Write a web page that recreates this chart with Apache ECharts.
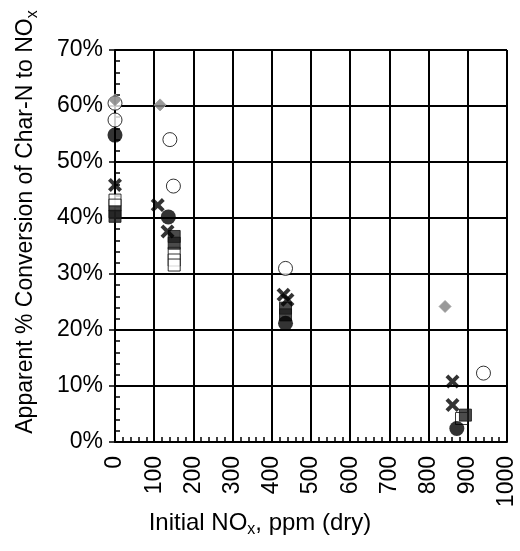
<!DOCTYPE html>
<html>
<head>
<meta charset="utf-8">
<script src="https://cdn.jsdelivr.net/npm/echarts@6/dist/echarts.min.js"></script>
<style>
html,body{margin:0;padding:0;background:#fff;}
#c{width:520px;height:551px;}
</style>
</head>
<body>
<div id="c"></div>
<script>
// ---- data (x = initial NOx ppm, y = % conversion) ----
const xTicks = [0,100,200,300,400,500,600,700,800,900,1000];
const yTicks = [0,10,20,30,40,50,60,70];

const openCircleX = [0, 0, 140, 149, 435, 940];
const openCircleY = [60.5, 57.5, 54.0, 45.7, 31.0, 12.3];

const openSquareX = [0, 0, 151, 151, 151, 884];
const openSquareY = [43.2, 42.3, 33.7, 32.5, 31.6, 4.2];

const filledSquareX = [0, 0, 151, 151, 435, 435, 894];
const filledSquareY = [41.1, 40.3, 36.7, 35.5, 23.9, 22.7, 4.8];

const diamondX = [0, 115, 842];
const diamondY = [61.1, 60.2, 24.2];

const crossX = [0, 109, 134, 430, 440, 861, 861];
const crossY = [45.9, 42.3, 37.6, 26.3, 25.4, 10.8, 6.6];

const filledCircleX = [0, 136, 435, 872];
const filledCircleY = [54.8, 40.2, 21.2, 2.4];

function pairs(xs, ys){ return xs.map((x,i)=>[x, ys[i]]); }

const FONT = '"Liberation Sans", Arial, Helvetica, sans-serif';
const crossPath = 'path://M0,2 L2,0 L5,3 L8,0 L10,2 L7,5 L10,8 L8,10 L5,7 L2,10 L0,8 L3,5 Z';

const chart = echarts.init(document.getElementById('c'), null, {renderer:'canvas'});
chart.setOption({
  animation: false,
  backgroundColor: '#fff',
  grid: {left: 115, right: 13, top: 50, bottom: 109, containLabel: false},
  xAxis: {
    type: 'value', min: xTicks[0], max: xTicks[xTicks.length-1], interval: 100,
    axisLine: {show: true, onZero: false, lineStyle: {color: '#000', width: 2}},
    axisTick: {show: true, inside: true, length: 5, lineStyle: {color: '#000', width: 1.5}},
    minorTick: {show: true, splitNumber: 5, length: 5, lineStyle: {color: '#000', width: 1.5}},
    splitLine: {show: true, lineStyle: {color: '#000', width: 2}},
    axisLabel: {rotate: 90, margin: 14, color: '#000', fontSize: 23, fontFamily: FONT,
      formatter: v => xTicks.indexOf(v) >= 0 ? String(v) : ''}
  },
  yAxis: {
    type: 'value', min: yTicks[0], max: yTicks[yTicks.length-1], interval: 10,
    axisLine: {show: true, onZero: false, lineStyle: {color: '#000', width: 2}},
    axisTick: {show: true, inside: false, length: 6, lineStyle: {color: '#000', width: 1.5}},
    minorTick: {show: true, splitNumber: 5, length: -5, lineStyle: {color: '#000', width: 1.5}},
    splitLine: {show: true, lineStyle: {color: '#000', width: 2}},
    axisLabel: {margin: 12, color: '#000', fontSize: 23, fontFamily: FONT,
      formatter: v => v + '%'}
  },
  series: [
    {type: 'scatter', name: 'open circle', data: pairs(openCircleX, openCircleY), symbol: 'circle', symbolSize: 14,
      itemStyle: {color: '#fff', borderColor: '#000', borderWidth: 1}, z: 2},
    {type: 'scatter', name: 'open square', data: pairs(openSquareX, openSquareY), symbol: 'rect', symbolSize: 12,
      itemStyle: {color: '#fff', borderColor: '#000', borderWidth: 1}, z: 3},
    {type: 'scatter', name: 'filled square', data: pairs(filledSquareX, filledSquareY), symbol: 'rect', symbolSize: 12,
      itemStyle: {color: '#1e1e1e', borderColor: '#111', borderWidth: 1}, z: 4},
    {type: 'scatter', name: 'diamond', data: pairs(diamondX, diamondY), symbol: 'diamond', symbolSize: 12,
      itemStyle: {color: '#7f7f7f', borderColor: '#9a9a9a', borderWidth: 1}, z: 5},
    {type: 'scatter', name: 'cross', data: pairs(crossX, crossY), symbol: crossPath, symbolSize: 14,
      itemStyle: {color: '#000'}, z: 6},
    {type: 'scatter', name: 'filled circle', data: pairs(filledCircleX, filledCircleY), symbol: 'circle', symbolSize: 15,
      itemStyle: {color: '#000'}, z: 7}
  ],
  graphic: [
    {type: 'text', left: 'center', x: 0, top: 511, style: {
      text: '{m|Initial NO}{s|x}{m|, ppm (dry)}',
      rich: {
        m: {fontSize: 24, fontFamily: FONT, fill: '#000', lineHeight: 30},
        s: {fontSize: 16, fontFamily: FONT, fill: '#000', lineHeight: 16, verticalAlign: 'bottom'}
      }
    }},
    {type: 'text', x: 26, y: 222, rotation: Math.PI/2, style: {
      text: '{m|Apparent % Conversion of Char-N to NO}{s|x}',
      align: 'center', verticalAlign: 'middle',
      rich: {
        m: {fontSize: 23, fontFamily: FONT, fill: '#000', lineHeight: 30},
        s: {fontSize: 16, fontFamily: FONT, fill: '#000', lineHeight: 16, verticalAlign: 'bottom'}
      }
    }}
  ]
});
</script>
</body>
</html>
